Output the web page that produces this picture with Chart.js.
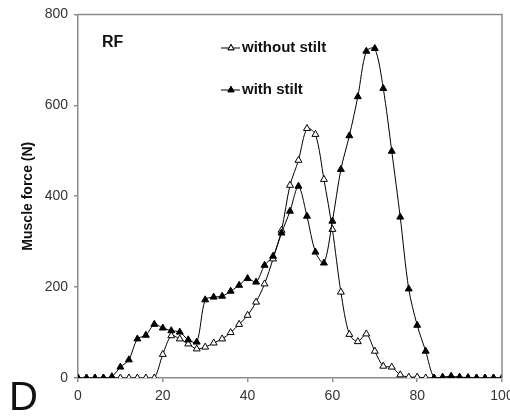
<!DOCTYPE html>
<html>
<head>
<meta charset="utf-8">
<script src="https://cdn.jsdelivr.net/npm/chart.js@4.4.1/dist/chart.umd.min.js"></script>
<style>
    body { margin: 0; background: #fff; }
    #wrap { width: 510px; height: 416px; position: relative; }
</style>
</head>
<body>
<div id="wrap"><canvas id="chart" width="510" height="416"></canvas></div>
<script>
// gait cycle (%)
const cyclePct = [0, 2, 4, 6, 8, 10, 12, 14, 16, 18, 20, 22, 24, 26, 28, 30, 32, 34, 36, 38, 40,
    42, 44, 46, 48, 50, 52, 54, 56, 58, 60, 62, 64, 66, 68, 70, 72, 74, 76, 78, 80,
    82, 84, 86, 88, 90, 92, 94, 96, 98, 100];

// RF muscle force (N)
const withoutStilt = [0, 0, 0, 0, 0, 0, 0, 0, 0, 0, 52, 93, 86, 75, 64, 68, 77, 86, 100, 118, 138,
    167, 207, 262, 325, 424, 479, 549, 536, 437, 327, 189, 96, 80, 97, 59, 26, 24, 7, 2, 2,
    0, 0, 0, 0, 0, 0, 0, 0, 0, 0];
const withStilt = [0, 0, 0, 0, 3, 24, 40, 86, 94, 118, 110, 104, 101, 84, 79, 172, 178, 180, 191, 204, 219,
    211, 248, 268, 319, 367, 422, 356, 277, 253, 345, 459, 533, 619, 719, 725, 637, 499, 354, 196, 116,
    59, 0, 2, 4, 2, 1, 0, 0, 0, 0];

const xTicks = [0, 20, 40, 60, 80, 100];
const yTicks = [0, 200, 400, 600, 800];

const axisGray = '#8c8c8c';
const FONT = "'Liberation Sans', Arial, sans-serif";

function toPoints(values) {
    return cyclePct.map((x, i) => ({ x: x, y: values[i] }));
}

// frame, panel letters and the hand placed legend
const decorations = {
    id: 'decorations',
    afterDraw(chart) {
        const ctx = chart.ctx;
        const a = chart.chartArea;
        ctx.save();
        ctx.strokeStyle = axisGray;
        ctx.lineWidth = 1.5;
        ctx.beginPath();
        ctx.moveTo(a.left, a.top);
        ctx.lineTo(a.right, a.top);
        ctx.lineTo(a.right, a.bottom);
        ctx.stroke();

        ctx.fillStyle = '#111';
        ctx.textBaseline = 'middle';
        ctx.font = 'bold 16px ' + FONT;
        ctx.fillText('RF', 102, 43);

        ctx.font = '40px ' + FONT;
        ctx.textBaseline = 'alphabetic';
        ctx.fillText('D', 9, 410);

        // legend
        const rows = [
            { label: 'without stilt', y: 48, fill: '#fff' },
            { label: 'with stilt', y: 90, fill: '#000' }
        ];
        rows.forEach(r => {
            ctx.strokeStyle = '#000';
            ctx.lineWidth = 1;
            ctx.beginPath();
            ctx.moveTo(221, r.y);
            ctx.lineTo(240, r.y);
            ctx.stroke();
            ctx.fillStyle = r.fill;
            Chart.helpers.drawPoint(ctx, { pointStyle: 'triangle', radius: 3.5, rotation: 0, borderWidth: 1 }, 231, r.y);
            ctx.fill();
            ctx.stroke();
            ctx.fillStyle = '#111';
            ctx.font = 'bold 15px ' + FONT;
            ctx.textBaseline = 'middle';
            ctx.fillText(r.label, 242, r.y);
        });
        ctx.restore();
    }
};

const ctx = document.getElementById('chart').getContext('2d');
new Chart(ctx, {
    type: 'line',
    data: {
        datasets: [
            {
                label: 'without stilt',
                data: toPoints(withoutStilt),
                order: 1,
                borderColor: '#000',
                borderWidth: 1,
                pointStyle: 'triangle',
                pointRadius: 4,
                pointBackgroundColor: '#fff',
                pointBorderColor: '#000',
                pointBorderWidth: 1,
                tension: 0.3
            },
            {
                label: 'with stilt',
                data: toPoints(withStilt),
                order: 0,
                borderColor: '#000',
                borderWidth: 1,
                pointStyle: 'triangle',
                pointRadius: 4,
                pointBackgroundColor: '#000',
                pointBorderColor: '#000',
                pointBorderWidth: 1,
                tension: 0.3
            }
        ]
    },
    options: {
        responsive: false,
        animation: false,
        layout: { padding: { top: 14, right: 8, left: 0, bottom: 0 } },
        plugins: {
            legend: { display: false },
            tooltip: { enabled: false }
        },
        scales: {
            x: {
                type: 'linear',
                min: 0,
                max: 100,
                afterBuildTicks: s => { s.ticks = xTicks.map(v => ({ value: v })); },
                afterFit: s => { s.height = 38; s.paddingLeft = 0; s.paddingRight = 0; },
                ticks: { color: '#333', font: { family: FONT, size: 14 }, padding: 6, maxRotation: 0 },
                grid: { drawOnChartArea: false, drawTicks: true, tickLength: 4, color: axisGray, lineWidth: 1.5 },
                border: { color: axisGray, width: 1.5 }
            },
            y: {
                min: 0,
                max: 800,
                afterBuildTicks: s => { s.ticks = yTicks.map(v => ({ value: v })); },
                afterFit: s => { s.width = 78; },
                ticks: { color: '#333', font: { family: FONT, size: 14 }, padding: 6 },
                grid: { drawOnChartArea: false, drawTicks: true, tickLength: 4, color: axisGray, lineWidth: 1.5 },
                border: { color: axisGray, width: 1.5 },
                title: {
                    display: true,
                    text: 'Muscle force (N)',
                    color: '#111',
                    font: { family: FONT, size: 14, weight: 'bold' },
                    padding: { top: 20, bottom: 0 }
                }
            }
        }
    },
    plugins: [decorations]
});
</script>
</body>
</html>
